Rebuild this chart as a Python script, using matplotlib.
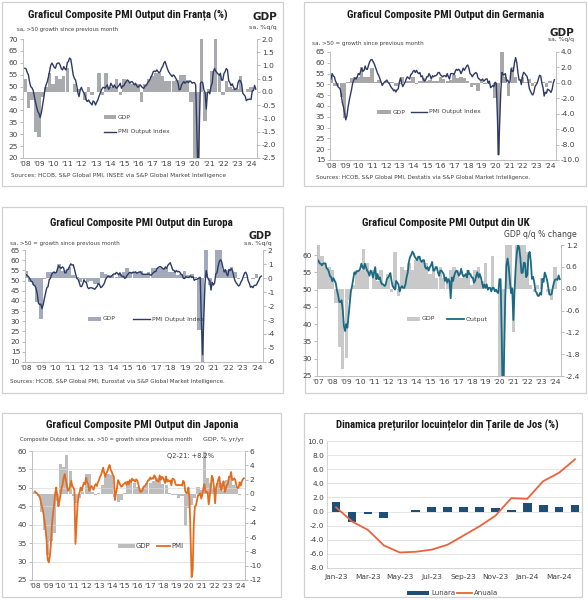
import matplotlib
matplotlib.use("Agg")
import matplotlib.pyplot as plt
import numpy as np
from matplotlib import font_manager as fm
from matplotlib.lines import Line2D
from matplotlib.patches import Rectangle

# ---------------- DATA ----------------
years_08 = list(range(2008, 2025))
years_07 = list(range(2007, 2025))

fr_pmi = [57.7, 57.5, 56.0, 55.0, 52.0, 50.0, 49.5, 48.6, 46.0, 43.5, 41.5, 39.5,
          38.7, 37.0, 39.0, 42.0, 45.0, 48.6, 50.7, 52.0, 54.0, 56.5, 59.0, 59.9,
          59.0, 58.0, 57.7, 59.5, 59.9, 59.9, 59.0, 57.5, 57.0, 58.4, 57.5, 57.0,
          60.0, 60.6, 62.0, 61.5, 58.4, 55.0, 53.5, 52.8, 50.5, 47.5, 45.8, 48.6,
          49.7, 48.3, 47.5, 46.5, 44.4, 43.7, 44.4, 43.5, 43.0, 42.3, 44.0, 43.5,
          42.3, 43.5, 44.4, 46.0, 47.2, 48.6, 49.5, 49.7, 49.3, 50.0, 50.7, 48.9,
          49.5, 51.4, 50.5, 49.7, 50.7, 49.7, 49.3, 50.0, 50.5, 51.4, 49.3, 50.3,
          50.3, 51.4, 52.1, 52.8, 52.4, 51.4, 52.0, 52.1, 51.5, 50.7, 51.4, 50.3,
          49.7, 50.2, 50.7, 50.0, 49.5, 49.3, 50.3, 50.5, 51.4, 52.1, 52.8, 54.0,
          54.9, 56.3, 56.5, 56.3, 57.0, 56.3, 55.8, 56.3, 57.7, 58.4, 59.9, 60.6,
          59.0, 57.5, 56.3, 55.5, 54.9, 54.2, 54.9, 54.5, 53.5, 52.8, 51.5, 48.6,
          48.9, 50.7, 51.5, 52.1, 51.4, 52.0, 52.1, 51.7, 52.4, 52.1, 51.4, 51.7,
          51.7, 50.7, 30.3, 11.1, 32.0, 51.4, 52.0, 51.6, 48.5, 47.5, 40.6, 47.5,
          47.7, 47.0, 50.0, 51.5, 56.3, 57.6, 56.5, 55.9, 55.3, 54.7, 55.6, 52.7,
          52.7, 55.5, 56.3, 57.6, 57.0, 52.5, 51.7, 50.4, 51.2, 50.0, 48.7, 49.1,
          49.1, 51.7, 52.7, 52.4, 51.2, 47.2, 46.6, 46.0, 44.1, 44.6, 44.6, 44.8,
          44.6, 48.1, 48.3, 50.5, 48.9]
fr_gdp = [0.5, -0.6, -0.3, -1.5, -1.7, -0.2, 0.2, 0.7, 0.3, 0.6, 0.5, 0.6,
          0.9, 0.0, 0.3, 0.1, 0.0, -0.3, 0.2, -0.1, 0.0, 0.7, -0.1, 0.7,
          0.2, 0.2, 0.5, -0.1, 0.5, 0.4, 0.3, 0.3, 0.3, -0.4, 0.3, 0.5,
          0.6, 0.7, 0.7, 0.6, 0.4, 0.4, 0.4, 0.45, 0.65, 0.65, 0.45, -0.4,
          -5.9, -13.5, 18.0, -1.1, 0.1, 0.8, 3.0, 0.6, -0.1, 0.4, 0.2, 0.1,
          0.1, 0.6, 0.0, 0.1, 0.2]

de_pmi = [52.5, 55.0, 54.0, 53.5, 51.5, 50.5, 49.0, 48.5, 48.0, 45.5, 41.5, 39.5,
          36.5, 33.6, 35.5, 39.5, 42.5, 45.0, 47.5, 50.5, 52.0, 53.0, 52.5, 53.5,
          55.0, 54.5, 56.0, 57.5, 56.0, 56.5, 58.5, 57.0, 57.0, 59.0, 60.5, 61.4,
          61.5, 60.5, 59.5, 58.0, 56.5, 55.0, 54.0, 52.5, 51.0, 49.5, 50.5, 51.0,
          51.5, 52.0, 51.0, 50.5, 49.5, 48.5, 48.0, 47.0, 47.5, 46.5, 47.5, 48.0,
          51.0, 53.0, 50.5, 49.0, 50.0, 51.0, 52.5, 53.5, 53.0, 52.5, 54.5, 55.0,
          56.0, 56.5, 55.5, 56.5, 55.5, 55.0, 55.5, 53.5, 54.0, 52.5, 51.5, 52.0,
          53.5, 53.5, 55.0, 54.0, 52.5, 54.0, 53.5, 54.0, 54.0, 54.5, 55.5, 55.5,
          54.5, 54.0, 53.5, 54.0, 54.0, 53.5, 55.0, 53.5, 52.5, 55.0, 55.0, 55.0,
          54.5, 56.0, 57.0, 56.5, 57.0, 56.5, 55.0, 56.0, 57.5, 56.5, 57.5, 58.5,
          59.0, 57.5, 55.0, 54.5, 53.5, 54.5, 55.0, 55.5, 55.0, 53.0, 52.5, 52.0,
          52.0, 52.5, 51.5, 52.0, 52.5, 52.5, 50.5, 51.5, 48.5, 49.0, 49.5, 49.0,
          51.0, 50.5, 35.0, 17.4, 32.5, 47.0, 55.5, 54.5, 54.5, 55.0, 51.5, 52.0,
          50.8, 51.1, 57.3, 56.0, 56.2, 60.1, 62.4, 60.0, 55.5, 52.0, 52.2, 49.9,
          53.8, 55.6, 55.1, 54.3, 53.7, 51.3, 48.1, 46.9, 45.7, 45.1, 46.3, 49.0,
          49.9, 50.7, 52.6, 54.2, 53.9, 50.6, 48.5, 44.6, 46.4, 45.9, 47.8, 47.4,
          47.0, 46.3, 47.7, 50.6, 52.2]
de_gdp = [1.0, -0.4, -0.4, -1.8, -4.6, 0.1, 0.6, 0.8, 0.8, 2.0, 0.8, 0.7,
          1.9, 0.1, 0.4, -0.1, 0.2, 0.1, 0.1, -0.4, -0.1, 0.7, 0.3, 0.3,
          0.8, -0.1, 0.2, 0.6, 0.2, 0.4, 0.3, 0.3, 0.7, 0.5, 0.2, 0.4,
          1.0, 0.6, 0.7, 0.6, 0.2, -0.5, -0.3, -1.0, 0.4, -0.2, 0.3, 0.0,
          -1.9, -9.4, 8.9, 0.7, -1.7, 2.0, 0.8, 0.0, 0.8, 0.1, 0.5, -0.4,
          0.1, 0.0, 0.1, -0.5, 0.2]

ez_pmi = [52.8, 52.3, 51.7, 50.7, 49.6, 49.3, 47.8, 47.5, 46.1, 43.6, 38.9, 38.2,
          38.4, 36.2, 38.3, 41.1, 44.0, 46.4, 47.0, 50.4, 51.1, 53.0, 53.7, 54.2,
          53.7, 54.1, 55.9, 57.3, 56.4, 56.0, 56.7, 56.2, 53.8, 53.8, 55.5, 55.5,
          57.0, 58.2, 57.6, 57.8, 55.8, 53.3, 51.1, 50.7, 49.1, 47.2, 47.0, 48.3,
          50.4, 49.3, 49.1, 46.7, 46.0, 46.4, 46.5, 46.3, 46.1, 45.7, 46.5, 47.2,
          48.6, 47.9, 46.5, 46.9, 47.7, 48.7, 50.5, 51.5, 52.2, 51.9, 51.7, 52.1,
          52.9, 53.3, 53.1, 54.0, 53.5, 52.8, 53.8, 52.5, 52.0, 52.1, 51.1, 51.4,
          52.6, 53.3, 54.0, 53.9, 53.6, 54.2, 53.9, 54.3, 53.6, 53.9, 54.2, 54.3,
          53.6, 53.0, 53.1, 53.0, 53.1, 53.1, 53.2, 52.9, 52.6, 53.3, 53.9, 54.4,
          54.4, 56.0, 56.4, 56.8, 56.8, 56.3, 55.7, 55.7, 56.7, 56.0, 57.5, 58.1,
          58.8, 57.1, 55.2, 55.1, 54.1, 54.9, 54.3, 54.5, 54.1, 53.1, 52.7, 51.1,
          51.0, 51.9, 51.6, 51.5, 51.8, 52.2, 51.5, 51.9, 50.1, 50.6, 50.6, 50.9,
          51.3, 51.6, 29.7, 13.6, 31.9, 48.5, 54.9, 51.9, 50.4, 50.0, 45.3, 49.1,
          47.8, 48.8, 53.2, 53.8, 57.1, 59.5, 60.2, 59.0, 56.2, 54.2, 55.4, 53.3,
          52.3, 55.5, 54.9, 55.8, 54.8, 52.0, 49.9, 48.9, 48.1, 47.3, 47.8, 49.3,
          50.3, 52.0, 53.7, 54.1, 52.8, 49.9, 48.6, 46.7, 47.2, 46.5, 47.6, 47.6,
          47.9, 49.2, 50.3, 51.7, 52.2]
ez_gdp = [0.5, -0.3, -0.5, -1.7, -2.9, -0.1, 0.4, 0.4, 0.4, 1.0, 0.5, 0.6,
          0.8, 0.2, 0.1, -0.3, -0.1, -0.3, -0.2, -0.4, -0.4, 0.4, 0.3, 0.2,
          0.2, 0.1, 0.3, 0.4, 0.7, 0.4, 0.4, 0.4, 0.5, 0.3, 0.4, 0.7,
          0.7, 0.7, 0.7, 0.7, 0.4, 0.4, 0.2, 0.3, 0.5, 0.2, 0.3, 0.1,
          -3.7, -11.7, 12.6, -0.5, 0.0, 2.2, 2.2, 0.6, 0.6, 0.8, 0.4, -0.1,
          0.0, 0.1, 0.0, -0.1, 0.3]

uk_pmi = [58.4, 57.6, 57.5, 57.0, 57.5, 57.6, 57.6, 56.2, 55.9, 55.2, 53.9, 53.6,
          52.4, 53.3, 52.6, 51.8, 49.8, 48.4, 46.4, 46.4, 46.9, 44.0, 39.5, 38.0,
          40.0, 39.0, 42.5, 46.0, 49.5, 51.0, 53.0, 55.0, 54.5, 55.3, 55.3, 55.5,
          56.0, 57.5, 56.5, 56.0, 57.5, 56.5, 55.5, 55.0, 54.0, 55.5, 55.0, 53.5,
          55.0, 56.5, 53.0, 54.5, 53.0, 53.5, 52.0, 51.5, 51.5, 51.0, 51.5, 53.0,
          53.5, 54.0, 54.8, 52.5, 51.0, 50.5, 50.0, 52.5, 52.0, 51.5, 49.5, 50.5,
          51.0, 50.5, 50.5, 51.5, 53.5, 55.0, 58.0, 59.5, 60.0, 61.0, 60.5, 59.5,
          59.0, 58.5, 59.5, 59.5, 58.5, 58.0, 58.5, 58.5, 56.5, 56.0, 56.5, 55.5,
          56.5, 57.0, 58.0, 55.5, 55.5, 56.5, 56.5, 55.0, 54.0, 55.5, 55.5, 55.0,
          54.5, 52.5, 53.5, 52.0, 53.0, 52.5, 47.5, 53.5, 52.5, 54.0, 55.0, 55.5,
          55.0, 54.0, 54.5, 56.0, 54.5, 53.8, 54.0, 54.5, 53.5, 55.5, 54.5, 54.5,
          53.5, 53.5, 52.0, 52.5, 54.0, 55.0, 53.5, 54.5, 53.5, 52.0, 50.5, 51.5,
          50.5, 51.5, 50.0, 50.5, 50.5, 49.5, 50.5, 50.5, 49.5, 50.0, 49.3, 49.0,
          53.0, 53.0, 36.0, 13.8, 30.0, 47.7, 57.0, 59.0, 56.5, 52.5, 49.0, 50.4,
          41.2, 49.6, 56.4, 60.7, 62.9, 62.2, 59.2, 54.8, 54.9, 57.8, 57.6, 53.6,
          54.2, 59.9, 60.9, 58.2, 53.1, 53.7, 52.1, 49.6, 49.1, 48.2, 48.2, 49.0,
          48.5, 53.1, 52.2, 54.9, 54.0, 52.8, 50.8, 48.6, 48.5, 48.7, 50.7, 52.1,
          52.9, 53.0, 52.8, 54.1, 53.0]
uk_gdp = [1.2, 0.9, 0.7, 0.6, 0.5, -0.4, -1.6, -2.2, -1.9, -0.3, 0.1, 0.5,
          0.5, 1.1, 0.7, 0.0, 0.5, 0.2, 0.5, 0.1, 0.4, -0.1, 1.0, -0.2,
          0.6, 0.5, 0.7, 0.5, 0.8, 0.9, 0.8, 0.7, 0.4, 0.5, 0.3, 0.6,
          0.3, 0.3, 0.5, 0.6, 0.5, 0.3, 0.4, 0.5, 0.1, 0.5, 0.6, 0.2,
          0.7, 0.0, 0.9, 0.0, -2.5, -19.0, 16.0, 1.3, -1.2, 5.5, 1.7, 1.5,
          1.0, 0.1, -0.1, 0.1, 0.3, 0.0, -0.1, -0.3, 0.6]

jp_pmi = [49.0, 48.7, 48.5, 48.0, 47.8, 47.0, 45.5, 44.5, 43.0, 41.0, 38.5, 35.5,
          30.5, 29.8, 31.5, 35.0, 40.2, 43.0, 45.5, 48.5, 50.1, 47.5, 45.0, 46.5,
          48.3, 50.0, 51.0, 52.8, 53.7, 52.0, 50.5, 49.2, 49.6, 50.5, 51.9, 50.5,
          50.1, 49.4, 34.8, 40.0, 45.6, 47.8, 49.0, 50.1, 49.2, 50.5, 51.4, 51.0,
          52.8, 51.5, 51.0, 49.2, 50.1, 50.5, 50.0, 49.5, 50.5, 51.0, 50.5, 51.5,
          52.0, 53.0, 53.5, 54.5, 55.5, 54.0, 53.0, 54.0, 54.5, 55.5, 56.2, 55.0,
          54.4, 53.5, 53.0, 46.7, 48.5, 50.0, 52.1, 51.5, 50.8, 50.3, 50.5, 51.0,
          51.2, 51.5, 50.8, 51.7, 51.0, 52.1, 51.5, 52.5, 52.0, 52.1, 51.7, 52.3,
          52.0, 51.0, 49.5, 48.9, 49.0, 49.5, 50.3, 50.5, 50.8, 51.3, 52.0, 52.1,
          52.8, 52.4, 52.6, 52.5, 53.4, 52.9, 52.0, 51.9, 51.7, 53.4, 52.2, 53.0,
          52.8, 52.2, 51.3, 53.1, 51.7, 52.1, 51.8, 52.0, 50.7, 52.5, 52.4, 52.0,
          50.9, 50.7, 50.8, 50.8, 50.7, 50.8, 50.6, 51.9, 51.5, 49.1, 48.6, 48.6,
          50.1, 47.0, 36.2, 25.8, 27.8, 40.1, 44.9, 45.2, 46.6, 48.0, 48.1, 48.5,
          47.1, 48.2, 49.9, 51.0, 48.8, 48.9, 48.8, 45.5, 47.9, 50.7, 53.3, 52.5,
          49.9, 45.8, 50.3, 51.1, 52.3, 53.0, 50.2, 49.4, 51.0, 51.8, 48.9, 49.7,
          50.7, 51.1, 52.9, 52.9, 54.3, 52.1, 52.2, 52.6, 52.1, 50.5, 50.0, 50.0,
          51.5, 50.6, 51.7, 52.3, 52.6]
jp_gdp = [0.3, -0.3, -2.5, -5.0, -8.5, -6.5, -5.5, -1.0, 4.2, 3.8, 5.4, 3.2,
          -0.3, -1.2, -0.5, 0.3, 2.8, 2.8, 0.3, -0.2, 0.1, 1.2, 2.6, 2.8,
          2.6, -0.4, -1.1, -0.9, 0.2, 1.8, 2.0, 1.6, 1.0, 0.8, 1.0, 1.5,
          1.6, 1.8, 2.2, 2.3, 1.4, 1.2, 0.1, -0.2, -0.2, -0.5, -0.3, -4.5,
          -2.0, -1.5, -0.5, 1.0, 0.5, 8.2, 2.3, 1.5, 0.9, 1.5, 1.5, 0.4,
          2.0, 2.5, 1.2, 1.0, -0.2]

nl_months = ['Jan-23', 'Feb-23', 'Mar-23', 'Apr-23', 'May-23', 'Jun-23', 'Jul-23', 'Aug-23',
             'Sep-23', 'Oct-23', 'Nov-23', 'Dec-23', 'Jan-24', 'Feb-24', 'Mar-24', 'Apr-24']
nl_lunara = [1.4, -1.55, -0.4, -0.95, 0.0, 0.15, 0.6, 0.6, 0.6, 0.65, 0.45, 0.2, 1.2, 1.0, 0.7, 1.0]
nl_anuala = [0.6, -1.4, -2.6, -4.8, -5.8, -5.7, -5.4, -4.7, -3.4, -2.1, -0.6, 1.9, 1.8, 4.3, 5.5, 7.4]

# ---------------- FIGURE ----------------
W, H = 588, 600
fig = plt.figure(figsize=(W / 100, H / 100), dpi=100)
fig.patch.set_facecolor('white')
TXT = '#404040'

avail = {f.name for f in fm.fontManager.ttflist}
if 'Roboto Condensed' in avail:
    TFONT = dict(fontfamily='Roboto Condensed', fontweight='bold')
elif 'Liberation Sans Narrow' in avail:
    TFONT = dict(fontfamily='Liberation Sans Narrow', fontweight='bold')
else:
    TFONT = dict(fontfamily='DejaVu Sans', fontweight='bold', fontstretch='condensed')
NFONT = dict(fontfamily='Liberation Sans')


def px_axes(x0, y0, x1, y1):
    return fig.add_axes([x0 / W, 1 - y1 / H, (x1 - x0) / W, (y1 - y0) / H])


def ftext(x, y, s, **kw):
    return fig.text(x / W, 1 - y / H, s, **kw)


def fit(t, target_w):
    r = fig.canvas.get_renderer()
    w = t.get_window_extent(r).width
    t.set_fontsize(t.get_fontsize() * target_w / w)


def box(x0, y0, x1, y1):
    fig.add_artist(Rectangle((x0 / W, 1 - y1 / H), (x1 - x0) / W, (y1 - y0) / H,
                             transform=fig.transFigure, fill=False, ec='#D0D0D0', lw=0.9))


def title(cx, y, s, w):
    t = ftext(cx, y, s, ha='center', va='center', fontsize=11, color='#1a1a1a', **TFONT)
    fit(t, w)


def leg_patch(x0, x1, y, h, color):
    fig.add_artist(Rectangle((x0 / W, 1 - (y + h / 2) / H), (x1 - x0) / W, h / H,
                             transform=fig.transFigure, color=color, lw=0))


def leg_line(x0, x1, y, color, lw):
    fig.add_artist(Line2D([x0 / W, x1 / W], [1 - y / H, 1 - y / H],
                          transform=fig.transFigure, color=color, lw=lw))


def pmi_panel(rect, pmi, pmi_start, gdp, gdp_start, xlim, yl, lticks, yr, rticks, rfmt,
              years, lcolor, bcolor, lw, grid=False):
    ax = px_axes(*rect)
    ax2 = ax.twinx()
    tq = gdp_start + 0.25 * np.arange(len(gdp))
    ax2.bar(tq, gdp, width=0.245, color=bcolor, align='center', lw=0)
    tm = pmi_start + np.arange(len(pmi)) / 12.0
    ax.plot(tm, pmi, color=lcolor, lw=lw, solid_joinstyle='round')
    ax.set_zorder(ax2.get_zorder() + 1)
    ax.patch.set_visible(False)
    ax.set_xlim(*xlim)
    ax.set_ylim(*yl)
    ax2.set_ylim(*yr)
    ax.set_yticks(lticks)
    ax2.set_yticks(rticks)
    ax2.set_yticklabels([rfmt.format(v) for v in rticks])
    ax.set_xticks(years)
    ax.set_xticklabels(["'%02d" % (y % 100) for y in years])
    for a in (ax, ax2):
        a.tick_params(labelsize=5.3, length=2, width=0.5, color='#A0A0A0',
                      labelcolor=TXT, pad=1.5)
        for s in a.spines.values():
            s.set_color('#BFBFBF')
            s.set_linewidth(0.6)
        a.spines['top'].set_visible(False)
    ax.tick_params(axis='x', length=0, pad=2.5)
    if grid:
        ax.grid(axis='y', color='#D9D9D9', lw=0.5)
        ax.set_axisbelow(True)
    return ax, ax2


# ---------- France ----------
box(2, 2, 283, 186)
title(128, 15, 'Graficul Composite PMI Output din Franța (%)', 199)
t = ftext(17, 29, 'sa, >50 growth since previous month', fontsize=5, color=TXT, va='center')
fit(t, 101)
ftext(277, 17, 'GDP', fontsize=7.5, fontweight='bold', color='#222222', ha='right', va='center')
ftext(277, 27, 'sa, %q/q', fontsize=4.6, color=TXT, ha='right', va='center')
pmi_panel((23, 39, 257, 158), fr_pmi, 2008.0, fr_gdp, 2008.0, (2007.87, 2024.42),
          (20, 70), range(20, 71, 5), (-2.5, 2.0), np.arange(-2.5, 2.01, 0.5), '{:.1f}',
          years_08, '#2E3A66', '#A8AAAE', 1.0)
leg_patch(104, 116, 117, 4, '#A8AAAE')
ftext(118, 117, 'GDP', fontsize=4.3, color=TXT, va='center')
leg_line(104, 116, 132, '#2E3A66', 1.0)
ftext(118, 132, 'PMI Output Index', fontsize=4.3, color=TXT, va='center')
t = ftext(11, 175, 'Sources: HCOB, S&P Global PMI, INSEE via S&P Global Market Intelligence',
          fontsize=5, color=TXT, va='center')
fit(t, 213)

# ---------- Germany ----------
box(304, 2, 586, 186)
title(446, 15, 'Graficul Composite PMI Output din Germania', 197)
t = ftext(312, 43, 'sa, >50 = growth since previous month', fontsize=5, color=TXT, va='center')
fit(t, 114)
ftext(574, 33, 'GDP', fontsize=7.5, fontweight='bold', color='#222222', ha='right', va='center')
ftext(574, 40, 'sa, %q/q', fontsize=4.3, color=TXT, ha='right', va='center')
pmi_panel((330, 52, 556, 160), de_pmi, 2008.0, de_gdp, 2008.0, (2007.93, 2024.45),
          (15, 65), range(15, 66, 5), (-10, 4), np.arange(-10, 4.01, 2), '{:.1f}',
          years_08, '#2E3A66', '#A8A8A8', 1.0)
leg_patch(377, 391, 112, 3.5, '#A8A8A8')
ftext(393, 112, 'GDP', fontsize=4.3, color=TXT, va='center')
leg_line(411, 427, 112, '#2E3A66', 1.0)
ftext(429, 112, 'PMI Output Index', fontsize=4.3, color=TXT, va='center')
t = ftext(316, 178, 'Sources: HCOB, S&P Global PMI, Destatis via S&P Global Market Intelligence.',
          fontsize=5, color=TXT, va='center')
fit(t, 219)

# ---------- Europe ----------
box(2, 207, 283, 393)
title(141, 223, 'Graficul Composite PMI Output din Europa', 184)
t = ftext(10, 243, 'sa, >50 = growth since previous month', fontsize=5, color=TXT, va='center')
fit(t, 110)
ftext(272, 236, 'GDP', fontsize=7, fontweight='bold', color='#222222', ha='right', va='center')
ftext(272, 243, 'sa, %q/q', fontsize=4.6, color=TXT, ha='right', va='center')
pmi_panel((25, 250, 263, 362), ez_pmi, 2008.0, ez_gdp, 2008.0, (2007.9, 2024.45),
          (10, 65), range(10, 66, 5), (-6, 2), range(-6, 3), '{:d}',
          years_08, '#2B3A67', '#A2AABC', 1.0)
leg_patch(88, 101, 319, 3.5, '#A2AABC')
ftext(103, 319, 'GDP', fontsize=4.3, color=TXT, va='center')
leg_line(133, 150, 319, '#2B3A67', 1.0)
ftext(152, 319, 'PMI Output Index', fontsize=4.3, color=TXT, va='center')
t = ftext(10, 381, 'Sources: HCOB, S&P Global PMI, Eurostat via S&P Global Market Intelligence.',
          fontsize=5, color=TXT, va='center')
fit(t, 220)

# ---------- UK ----------
box(305, 206, 586, 393)
title(446, 223, 'Graficul Composite PMI Output din UK', 168)
ftext(577, 235, 'GDP q/q % change', fontsize=5.6, color=TXT, ha='right', va='center')
pmi_panel((317, 245, 561, 376), uk_pmi, 2007.0, uk_gdp, 2007.0, (2006.9, 2024.42),
          (25, 62.9), range(25, 61, 5), (-2.4, 1.2), np.arange(-2.4, 1.21, 0.6), '{:.1f}',
          years_07, '#1B6A84', '#C9C9C9', 1.3)
leg_patch(407, 420, 319, 3.5, '#C9C9C9')
ftext(422, 319, 'GDP', fontsize=4.5, color=TXT, va='center')
leg_line(447, 464, 319, '#1B6A84', 1.3)
ftext(466, 319, 'Output', fontsize=4.5, color=TXT, va='center')

# ---------- Japan ----------
box(2, 413, 281, 597)
title(142, 425, 'Graficul Composite PMI Output din Japonia', 191)
t = ftext(20, 440, 'Composite Output Index, sa, >50 = growth since previous month',
          fontsize=5, color=TXT, va='center')
fit(t, 173)
ftext(244, 440, 'GDP, % yr/yr', fontsize=4.6, color=TXT, ha='right', va='center')
pmi_panel((32, 451, 245, 580), jp_pmi, 2008.0, jp_gdp, 2008.0, (2007.77, 2024.42),
          (25, 60), range(25, 61, 5), (-12, 6), range(-12, 7, 2), '{:d}',
          years_08, '#E46C1E', '#BDBDBD', 1.3, grid=True)
ftext(167, 456, 'Q2-21: +8.2%', fontsize=4.8, color=TXT, va='center')
leg_patch(118, 135, 546, 4, '#BDBDBD')
ftext(136, 546, 'GDP', fontsize=5, color=TXT, va='center')
leg_line(157, 170, 546, '#E46C1E', 1.3)
ftext(171, 546, 'PMI', fontsize=5, color=TXT, va='center')

# ---------- Netherlands ----------
box(304, 413, 582, 597)
title(447, 425, 'Dinamica prețurilor locuințelor din Țarile de Jos (%)', 224)
ax = px_axes(327, 441, 582, 568)
xs = np.arange(len(nl_months))
ax.bar(xs, nl_lunara, width=0.55, color='#1F4E79', zorder=2)
ax.plot(xs, nl_anuala, color='#E8643C', lw=1.3, zorder=3)
ax.set_xlim(-0.57, 15.44)
ax.set_ylim(-8, 10)
yt = np.arange(-8, 10.01, 2)
ax.set_yticks(yt)
ax.set_yticklabels(['{:.1f}'.format(v) for v in yt])
ax.set_xticks(xs[::2])
ax.set_xticklabels(nl_months[::2])
ax.grid(axis='y', color='#D9D9D9', lw=0.5, zorder=0)
ax.set_axisbelow(True)
ax.tick_params(labelsize=5.3, length=0, labelcolor=TXT, pad=2)
ax.tick_params(axis='x', pad=4)
for s in ['top', 'right']:
    ax.spines[s].set_visible(False)
for s in ['left', 'bottom']:
    ax.spines[s].set_color('#D0D0D0')
    ax.spines[s].set_linewidth(0.6)
leg_patch(407, 429, 593, 4, '#1F4E79')
ftext(431, 593, 'Lunara', fontsize=5, color=TXT, va='center')
leg_line(457, 472, 593, '#E8643C', 1.3)
ftext(474, 593, 'Anuala', fontsize=5, color=TXT, va='center')

fig.savefig('out.png', dpi=100, facecolor='white')
